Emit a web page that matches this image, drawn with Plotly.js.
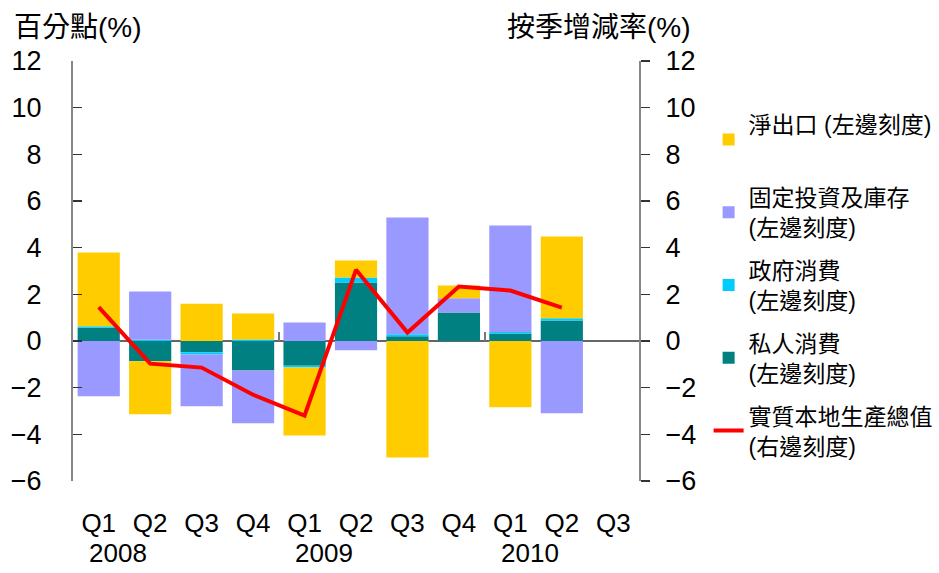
<!DOCTYPE html>
<html>
<head>
<meta charset="utf-8">
<script src="https://cdn.plot.ly/plotly-3.0.1.min.js"></script>
<style>html,body{margin:0;padding:0;background:#fff;}#chart{width:939px;height:573px;}</style>
</head>
<body>
<div id="chart"></div>
<script>
// ---- data ----
const categories = ['2008Q1','2008Q2','2008Q3','2008Q4','2009Q1','2009Q2','2009Q3','2009Q4','2010Q1','2010Q2','2010Q3'];
const quarterLabels = ['Q1','Q2','Q3','Q4','Q1','Q2','Q3','Q4','Q1','Q2','Q3'];
const yearLabels = ['2008','2009','2010'];
const privateConsumption = [0.57, -0.87, -0.48, -1.26, -1.06, 2.51, 0.20, 1.22, 0.32, 0.88, null];
const govConsumption     = [0.06, 0.05, -0.10, 0.06, -0.08, 0.21, 0.09, 0.00, 0.07, 0.09, null];
const investmentStock    = [-2.37, 2.07, -2.22, -2.27, 0.79, -0.40, 5.00, 0.61, 4.56, -3.10, null];
const netExports         = [3.16, -2.27, 1.60, 1.12, -2.91, 0.73, -4.99, 0.55, -2.84, 3.51, null];
const realGDP            = [1.45, -0.97, -1.14, -2.30, -3.20, 3.05, 0.36, 2.33, 2.16, 1.43, null];
const seriesNames = {
  net: '淨出口 (左邊刻度)<br> ',
  inv: '固定投資及庫存<br>(左邊刻度)',
  gov: '政府消費<br>(左邊刻度)',
  priv: '私人消費<br>(左邊刻度)',
  gdp: '實質本地生產總值<br>(右邊刻度)'
};

const idx = categories.map((c, i) => i);
const FONT = 'Liberation Sans, Arial, "Noto Sans CJK TC", sans-serif';

const traces = [
  {type:'bar', name: seriesNames.priv, x: idx, y: privateConsumption, marker:{color:'#008080'}, legendrank:4, legendgroup:'d'},
  {type:'bar', name: seriesNames.gov, x: idx, y: govConsumption, marker:{color:'#00CCFF'}, legendrank:3, legendgroup:'c'},
  {type:'bar', name: seriesNames.inv, x: idx, y: investmentStock, marker:{color:'#9999FF'}, legendrank:2, legendgroup:'b'},
  {type:'bar', name: seriesNames.net, x: idx, y: netExports, marker:{color:'#FFCC00'}, legendrank:1, legendgroup:'a'},
  {type:'scatter', mode:'lines', name: seriesNames.gdp, x: idx, y: realGDP, yaxis:'y2', line:{color:'#FF0000', width:4}, legendrank:5, legendgroup:'e'}
];

// year boundary ticks on zero line
const yearBoundaries = yearLabels.slice(1).map((y, i) => (i + 1) * 4 - 0.5);

const annotations = [
  {text:'百分點(%)', xref:'paper', yref:'paper', x:-0.108, y:1.08, xanchor:'left', yanchor:'middle', showarrow:false, font:{size:28, family:FONT, color:'#000'}},
  {text:'按季增減率(%)', xref:'paper', yref:'paper', x:1.095, y:1.08, xanchor:'right', yanchor:'middle', showarrow:false, font:{size:28, family:FONT, color:'#000'}}
].concat(yearLabels.map((y, i) => ({
  text: y, xref:'x', yref:'paper', x: i * 4 + 0.38, y: -0.171, xanchor:'center', yanchor:'middle', showarrow:false,
  font:{size:26, family:FONT, color:'#000'}
})));

const layout = {
  width: 939, height: 573,
  margin: {l:73, r:300, t:61, b:92, pad:0, autoexpand:false},
  paper_bgcolor:'#fff', plot_bgcolor:'#fff',
  font: {family: FONT, color:'#000'},
  barmode: 'relative',
  bargap: 0.18,
  showlegend: true,
  legend: {x:1.123, y:0.9, xanchor:'left', yanchor:'top', font:{size:23, family:FONT, color:'#000'}, tracegroupgap: 10, bgcolor:'rgba(0,0,0,0)'},
  xaxis: {
    range: [-0.5, 10.5], tickmode:'array', tickvals: idx, ticktext: quarterLabels,
    ticks:'', showline:false, showgrid:false, zeroline:false,
    tickfont:{size:26, family:FONT, color:'#000'}, ticklabelstandoff: 24, automargin:false
  },
  xaxis2: {
    overlaying:'x', matches:'x', anchor:'free', position: 1/3, side:'bottom',
    tickmode:'array', tickvals: yearBoundaries, ticks:'inside', ticklen:9, tickwidth:2, tickcolor:'#777',
    showticklabels:false, showline:false, showgrid:false, zeroline:false
  },
  yaxis: {
    range:[-6, 12], tickmode:'linear', tick0:-6, dtick:2,
    ticks:'inside', ticklen:9, tickwidth:1.5, tickcolor:'#333',
    showline:true, linecolor:'#888', linewidth:2, showgrid:false,
    zeroline:true, zerolinecolor:'#666', zerolinewidth:2.5,
    tickfont:{size:27, family:FONT, color:'#000'}, ticklabelstandoff: 24, automargin:false
  },
  yaxis2: {
    overlaying:'y', side:'right', range:[-6, 12], tickmode:'linear', tick0:-6, dtick:2,
    ticks:'outside', ticklen:9, tickwidth:1.5, tickcolor:'#333',
    showline:true, linecolor:'#888', linewidth:2, showgrid:false, zeroline:false,
    tickfont:{size:27, family:FONT, color:'#000'}, ticklabelstandoff: 10, automargin:false
  },
  annotations: annotations
};

// dummy trace to activate xaxis2
traces.push({type:'scatter', mode:'markers', x:[], y:[], xaxis:'x2', showlegend:false, hoverinfo:'skip'});

Plotly.newPlot('chart', traces, layout, {displayModeBar:false, staticPlot:true});
</script>
</body>
</html>
